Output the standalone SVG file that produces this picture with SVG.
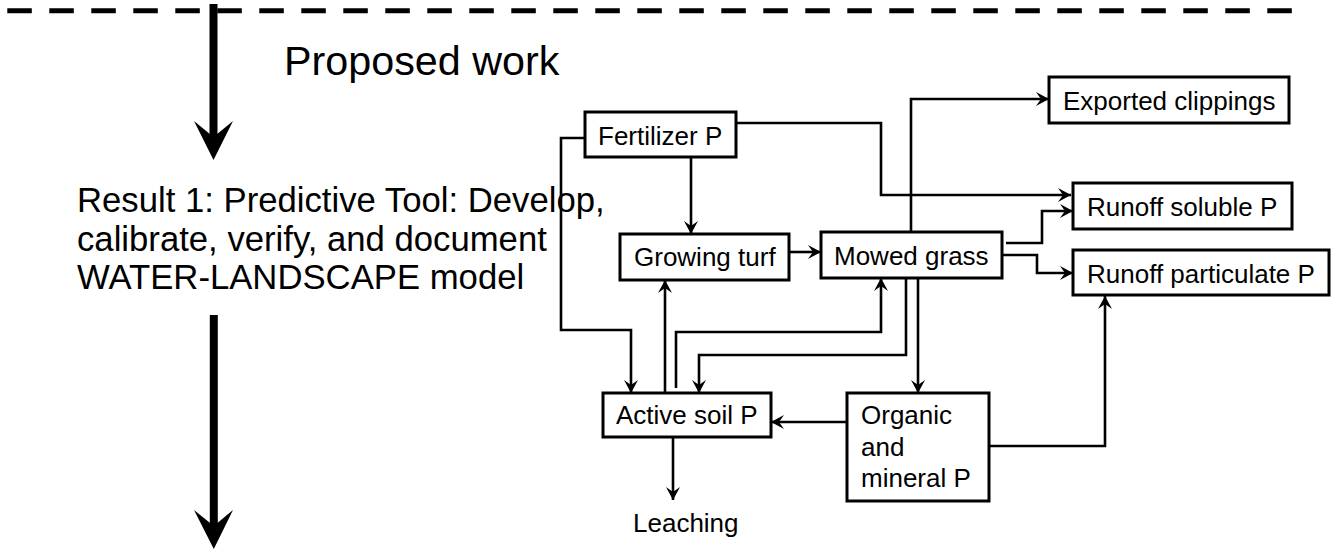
<svg xmlns="http://www.w3.org/2000/svg" width="1339" height="550" viewBox="0 0 1339 550">
<style>
text{font-family:"Liberation Sans",Arial,sans-serif;fill:#000}
.lbl{font-size:26px}
.box{fill:#fff;stroke:#000;stroke-width:3}
.c{fill:none;stroke:#000;stroke-width:2.6}
</style>
<defs>
<marker id="ah" markerUnits="userSpaceOnUse" markerWidth="16" markerHeight="16" viewBox="-14 -8 16 16" refX="0" refY="0" orient="auto">
<path d="M0,0 L-13,-7 L-8,0 L-13,7 Z" fill="#000"/>
</marker>
</defs>
<line x1="7.3" y1="10.8" x2="1292" y2="10.8" stroke="#000" stroke-width="5" stroke-dasharray="24.5 17.5"/>
<g id="bigarrows">
<line x1="213.5" y1="4" x2="213.5" y2="140" stroke="#000" stroke-width="8"/>
<path d="M194,121 L213.5,160 L233,121 L213.5,137 Z" fill="#000"/>
<line x1="213.8" y1="315" x2="213.8" y2="530" stroke="#000" stroke-width="8"/>
<path d="M194,510 L213.8,549 L233,510 L213.8,526 Z" fill="#000"/>
</g>
<text x="284" y="75" font-size="41.3">Proposed work</text>
<g id="result1" font-size="34.7">
<text x="77" y="212">Result 1: Predictive Tool: Develop,</text>
<text x="77" y="251">calibrate, verify, and document</text>
<text x="77" y="289">WATER-LANDSCAPE model</text>
</g>
<g id="connectors" class="c">
<path class="c" d="M691,157 V234" marker-end="url(#ah)"/>
<path class="c" d="M585,138 H561 V330 H631 V393" marker-end="url(#ah)"/>
<path class="c" d="M736,123 H881 V195 H1071" marker-end="url(#ah)"/>
<path class="c" d="M789,252 H821" marker-end="url(#ah)"/>
<path class="c" d="M911,232 V99 H1049" marker-end="url(#ah)"/>
<path class="c" d="M1006,243 H1042 V211 H1073" marker-end="url(#ah)"/>
<path class="c" d="M1002,255 H1037 V273 H1073" marker-end="url(#ah)"/>
<path class="c" d="M665,393 V280" marker-end="url(#ah)"/>
<path class="c" d="M676,388 V332 H881 V278" marker-end="url(#ah)"/>
<path class="c" d="M906,278 V355 H699 V393" marker-end="url(#ah)"/>
<path class="c" d="M918,278 V393" marker-end="url(#ah)"/>
<path class="c" d="M847,422 H771" marker-end="url(#ah)"/>
<path class="c" d="M989,446 H1105 V296" marker-end="url(#ah)"/>
<path class="c" d="M673,437 V500" marker-end="url(#ah)"/>
</g>
<g id="fertilizer"><rect class="box" x="585" y="112" width="151" height="45"/><text class="lbl" x="598" y="145">Fertilizer P</text></g>
<g id="growing"><rect class="box" x="620" y="234" width="169" height="46"/><text class="lbl" x="634" y="266">Growing turf</text></g>
<g id="mowed"><rect class="box" x="821" y="232" width="181" height="46"/><text class="lbl" x="834" y="265">Mowed grass</text></g>
<g id="exported"><rect class="box" x="1049" y="77" width="240" height="46"/><text class="lbl" x="1063" y="110">Exported clippings</text></g>
<g id="soluble"><rect class="box" x="1073" y="183" width="219" height="46"/><text class="lbl" x="1087" y="216">Runoff soluble P</text></g>
<g id="particulate"><rect class="box" x="1073" y="250" width="256" height="45"/><text class="lbl" x="1087" y="283">Runoff particulate P</text></g>
<g id="activesoil"><rect class="box" x="603" y="393" width="168" height="44"/><text class="lbl" x="616" y="424">Active soil P</text></g>
<g id="organic"><rect class="box" x="847" y="393" width="142" height="108"/><text class="lbl" x="861" y="424">Organic</text><text class="lbl" x="861" y="456">and</text><text class="lbl" x="861" y="487">mineral P</text></g>
<g id="leaching"><text class="lbl" x="633" y="532">Leaching</text></g>
</svg>
